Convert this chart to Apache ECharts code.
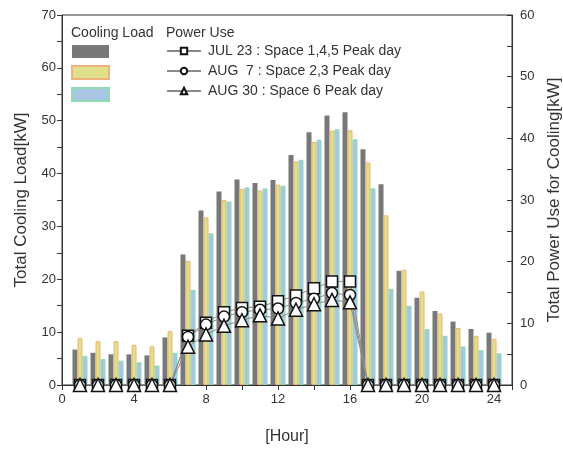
<!DOCTYPE html>
<html>
<head>
<meta charset="utf-8">
<script src="https://cdn.jsdelivr.net/npm/echarts@6/dist/echarts.min.js"></script>
<style>
  html, body { margin: 0; padding: 0; background: #fff; }
  #chart { width: 563px; height: 449px; }
</style>
</head>
<body>
<div id="chart"></div>
<script>
// hours of the day
var hours = [1, 2, 3, 4, 5, 6, 7, 8, 9, 10, 11, 12, 13, 14, 15, 16, 17, 18, 19, 20, 21, 22, 23, 24];

// cooling load [kW], left axis
var loadJul23 = [6.7, 6.1, 5.8, 5.8, 5.6, 9.0, 24.7, 33.0, 36.6, 38.9, 38.2, 38.8, 43.5, 47.8, 51.0, 51.6, 44.6, 38.0, 21.6, 16.5, 14.0, 12.0, 10.6, 9.9];
var loadAug7  = [8.9, 8.3, 8.3, 7.6, 7.3, 10.2, 23.5, 31.7, 35.0, 37.1, 36.8, 37.9, 42.3, 46.0, 48.1, 48.2, 42.1, 32.1, 21.8, 17.7, 13.5, 10.8, 9.3, 8.7];
var loadAug30 = [5.5, 4.9, 4.6, 4.3, 3.7, 6.1, 18.0, 28.7, 34.7, 37.4, 37.2, 37.7, 42.6, 46.4, 48.4, 46.5, 37.2, 18.2, 15.0, 10.6, 9.3, 7.3, 6.6, 6.0];

// power use for cooling [kW], right axis
var powJul23 = [0, 0, 0, 0, 0, 0, 8.0, 10.1, 11.8, 12.5, 12.7, 13.6, 14.5, 15.7, 16.8, 16.8, 0, 0, 0, 0, 0, 0, 0, 0];
var powAug7  = [0, 0, 0, 0, 0, 0, 7.8, 9.8, 11.1, 11.8, 12.2, 12.4, 13.3, 14.0, 14.9, 14.6, 0, 0, 0, 0, 0, 0, 0, 0];
var powAug30 = [0, 0, 0, 0, 0, 0, 6.2, 8.2, 9.6, 10.5, 11.3, 10.8, 12.2, 13.1, 13.8, 13.4, 0, 0, 0, 0, 0, 0, 0, 0];

var names = ['JUL 23 : Space 1,4,5 Peak day', 'AUG  7 : Space 2,3 Peak day', 'AUG 30 : Space 6 Peak day'];

function pairs(vals) {
  return hours.map(function (h, i) { return [h, vals[i]]; });
}

var textColor = '#333';
var font = 'Liberation Sans, Arial, sans-serif';

function barSeries(name, vals, fill, border) {
  return {
    name: name,
    type: 'bar',
    xAxisIndex: 0,
    yAxisIndex: 0,
    barWidth: 5,
    barGap: '0%',
    itemStyle: { color: fill, borderColor: border, borderWidth: border ? 1 : 0 },
    emphasis: { disabled: true },
    data: pairs(vals)
  };
}

function lineSeries(name, vals, symbol, size) {
  return {
    name: name,
    type: 'line',
    xAxisIndex: 0,
    yAxisIndex: 1,
    symbol: symbol,
    symbolSize: size,
    z: 5,
    lineStyle: { color: '#8a8a8a', width: 1 },
    itemStyle: { color: '#fff', borderColor: '#111', borderWidth: 1.5 },
    emphasis: { disabled: true },
    data: pairs(vals)
  };
}

var myChart = echarts.init(document.getElementById('chart'));

var option = {
  animation: false,
  textStyle: { fontFamily: font },
  grid: {
    left: 62, right: 51, top: 15, bottom: 64,
    outerBoundsMode: 'none',
    show: true, borderColor: '#333', borderWidth: 1, backgroundColor: 'transparent'
  },
  graphic: [
    { type: 'text', left: 71, top: 26, style: { text: 'Cooling Load', fontSize: 14, fill: textColor, fontFamily: font } },
    { type: 'text', left: 166, top: 26, style: { text: 'Power Use', fontSize: 14, fill: textColor, fontFamily: font } }
  ],
  legend: [
    {
      data: ['Cooling JUL 23', 'Cooling AUG 7', 'Cooling AUG 30'],
      orient: 'vertical',
      left: 71, top: 45,
      icon: 'rect',
      itemWidth: 37, itemHeight: 13, itemGap: 7,
      padding: 0,
      selectedMode: false,
      textStyle: { fontSize: 8 },
      formatter: function () { return ''; }
    },
    {
      data: names,
      orient: 'vertical',
      left: 166, top: 44,
      itemWidth: 34, itemHeight: 8, itemGap: 6,
      padding: 0,
      selectedMode: false,
      textStyle: { fontSize: 14, color: textColor, fontFamily: font, padding: [0, 0, 0, 2] }
    }
  ],
  xAxis: {
    type: 'value',
    min: 0, max: 25, interval: 2,
    name: '[Hour]', nameLocation: 'middle', nameGap: 44,
    nameTextStyle: { fontSize: 16, color: textColor },
    axisLine: { lineStyle: { color: '#333' } },
    axisTick: { length: 5, lineStyle: { color: '#333' } },
    splitLine: { show: false },
    axisLabel: {
      fontSize: 13, color: textColor, margin: 8,
      formatter: function (v) { return v % 4 === 0 ? String(v) : ''; }
    }
  },
  yAxis: [
    {
      type: 'value',
      min: 0, max: 70, interval: 5,
      name: 'Total Cooling Load[kW]', nameLocation: 'middle', nameGap: 32,
      nameTextStyle: { fontSize: 17, color: textColor },
      axisLine: { show: true, lineStyle: { color: '#333' } },
      axisTick: { show: true, length: 5, lineStyle: { color: '#333' } },
      splitLine: { show: false },
      axisLabel: {
        fontSize: 13, color: textColor, margin: 6,
        formatter: function (v) { return v % 10 === 0 ? String(v) : ''; }
      }
    },
    {
      type: 'value',
      min: 0, max: 60, interval: 5,
      position: 'right',
      name: 'Total Power Use for Cooling[kW]', nameLocation: 'middle', nameGap: 34, nameRotate: 90,
      nameTextStyle: { fontSize: 17, color: textColor },
      axisLine: { show: true, lineStyle: { color: '#333' } },
      axisTick: { show: true, inside: true, length: 5, lineStyle: { color: '#333' } },
      splitLine: { show: false },
      axisLabel: {
        fontSize: 13, color: textColor, margin: 8,
        formatter: function (v) { return v % 10 === 0 ? String(v) : ''; }
      }
    }
  ],
  series: [
    barSeries('Cooling JUL 23', loadJul23, '#787878', null),
    barSeries('Cooling AUG 7', loadAug7, '#dfe08a', '#efb27a'),
    barSeries('Cooling AUG 30', loadAug30, '#a8c6e4', '#8ddcb2'),
    lineSeries(names[0], powJul23, 'rect', 11),
    lineSeries(names[1], powAug7, 'circle', 11),
    lineSeries(names[2], powAug30, 'triangle', 13)
  ]
};

myChart.setOption(option);
window.addEventListener('resize', () => {
  myChart.resize();
});
</script>
</body>
</html>
